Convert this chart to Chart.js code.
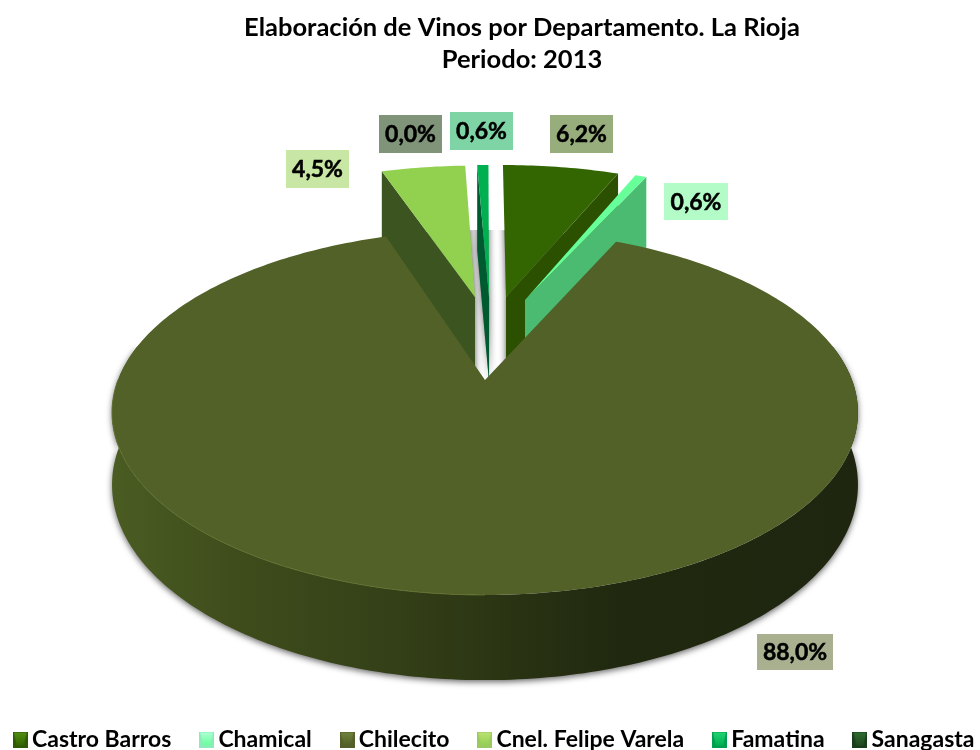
<!DOCTYPE html>
<html><head><meta charset="utf-8">
<style>html,body{margin:0;padding:0;background:#fff}canvas{display:block}</style>
<script src="https://cdn.jsdelivr.net/npm/chart.js@4"></script></head>
<body><canvas id="c" width="980" height="750"></canvas>
<script>
const categories=["Castro Barros","Chamical","Chilecito","Cnel. Felipe Varela","Famatina","Sanagasta"];
const values=[6.2,0.6,88.0,4.5,0.6,0.0];
const valueLabels=["6,2%","0,6%","88,0%","4,5%","0,6%","0,0%"];
const titleLines=["Elaboración de Vinos por Departamento. La Rioja","Periodo: 2013"];
const topColors=["#336600","#66FF99","#526127","#92D050","#00B050","#1F4A1F"];
const wallColors=["#2A5000","#4CBB72","#3F4F22","#3C5420","#005A30","#143214"];
const boxColors=["#98AD7C","#B3FCC8","#A8B090","#C8E6A4","#7FD4A6","#7F9478"];
const swatchEdge=["#2F5A08","#8CEBB8","#545F2C","#9CC860","#00A050","#1A3E1A"];
const swatchMid=["#4F8A10","#A8FFD0","#6E7F3C","#B8E070","#20D070","#2F6A2F"];
// label box placement (x,y,w,h), per slice
const boxX=[550,664,757,286,450,379],boxY=[115,183,634,150,112,115],boxW=[63,64,76,63,63,63],boxH=[38,37,36,38,38,38];
// how far each slice is pulled out of the disc, in disc units
const pullU=[0.0624,0.1186,0,-0.0297,0.012,0],pullV=[-0.513,-0.492,0,-0.513,-0.513,-0.5];
const radius=[1.04,1.046,1,1.035,1.04,1.04];
const CX=485,CY=380,A=367,B=176.7,K=0.178,WALL=85,RIM=70;
function P(u,v,dz){const w=1-K*v;return [CX+A*u/w,CY+B*v/w+(dz||0)/w];}
function rim(ctx,i,a0,a1,dz,rev){const n=Math.max(2,Math.ceil(Math.abs(a1-a0)*60));
  for(let j=0;j<=n;j++){const t=rev?a1+(a0-a1)*j/n:a0+(a1-a0)*j/n;
    const p=P(pullU[i]+radius[i]*Math.cos(t),pullV[i]+radius[i]*Math.sin(t),dz);ctx.lineTo(p[0],p[1]);}}
function topPath(ctx,i,a0,a1){ctx.beginPath();const c=P(pullU[i],pullV[i]);ctx.moveTo(c[0],c[1]);rim(ctx,i,a0,a1,0);ctx.closePath();}
function wallPath(ctx,i,ang){const c=P(pullU[i],pullV[i]),e=P(pullU[i]+radius[i]*Math.cos(ang),pullV[i]+radius[i]*Math.sin(ang));
  ctx.beginPath();ctx.moveTo(c[0],c[1]);ctx.lineTo(e[0],e[1]);ctx.lineTo(e[0],e[1]+WALL);ctx.lineTo(c[0],c[1]+WALL);ctx.closePath();}
function swatch(i){const s=document.createElement('canvas');s.width=15;s.height=16;const x=s.getContext('2d');
  x.fillStyle=swatchEdge[i];x.fillRect(0,0,15,16);
  const g=x.createLinearGradient(0,2,0,14);g.addColorStop(0,swatchMid[i]);g.addColorStop(1,topColors[i]);
  x.fillStyle=g;x.beginPath();x.moveTo(1,1);x.lineTo(14,1);x.lineTo(11,14);x.lineTo(4,14);x.closePath();x.fill();return s;}
const pie3d={id:'pie3d',
  beforeLayout(chart){const l=chart.legend;if(l&&!l._wide){l._wide=true;const f=l._fitRows;
    l._fitRows=function(){const m=this.maxWidth;this.maxWidth=4000;const r=f.apply(this,arguments);this.maxWidth=m;return r;};}},
  afterLayout(chart){const t=chart.titleBlock;t.left+=32;t.right+=32;
    const l=chart.legend;l.left=-15;l.right=1400;l.top=693;},
  beforeDatasetDraw(chart){
    const ctx=chart.ctx,arcs=chart.getDatasetMeta(0).data;
    const mainIdx=2;
    const exploded=[3,5,4,0,1];
    const angs=arcs.map(a=>a.getProps(['startAngle','endAngle'],true));
    const wallAng=i=>{const m=(angs[i].startAngle+angs[i].endAngle)/2;return Math.cos(m)>0?angs[i].endAngle:angs[i].startAngle;};
    // soft shadow cast on the floor of the notch
    ctx.save();ctx.beginPath();
    for(let j=0;j<=180;j++){const t=j/180*2*Math.PI,p=P(Math.cos(t),Math.sin(t));j?ctx.lineTo(p[0],p[1]):ctx.moveTo(p[0],p[1]);}
    ctx.closePath();ctx.clip();ctx.shadowColor='rgba(90,90,90,1)';ctx.shadowBlur=7;ctx.fillStyle='#999';
    exploded.forEach(i=>{if(values[i]<=0)return;wallPath(ctx,i,wallAng(i));ctx.fill();topPath(ctx,i,angs[i].startAngle,angs[i].endAngle);ctx.fill();});
    ctx.restore();
    // pulled-out slices
    exploded.forEach(i=>{if(values[i]<=0)return;
      ctx.fillStyle=wallColors[i];wallPath(ctx,i,wallAng(i));ctx.fill();
      ctx.fillStyle=topColors[i];topPath(ctx,i,angs[i].startAngle,angs[i].endAngle);ctx.fill();});
    // main slice side wall
    const i=mainIdx;
    const g=ctx.createLinearGradient(112,0,858,0);
    g.addColorStop(0,'#4A5C22');g.addColorStop(0.16,'#3F4D1C');g.addColorStop(0.39,'#333F17');g.addColorStop(0.68,'#20280F');g.addColorStop(1,'#1F2610');
    ctx.save();ctx.shadowColor='rgba(0,0,0,0.6)';ctx.shadowBlur=6;ctx.shadowOffsetX=0;ctx.shadowOffsetY=2;
    ctx.fillStyle=g;ctx.beginPath();
    const p0=P(Math.cos(-.2),Math.sin(-.2));ctx.moveTo(p0[0],p0[1]);
    rim(ctx,i,-.2,Math.PI+.2,0);rim(ctx,i,-.2,Math.PI+.2,RIM,true);ctx.closePath();ctx.fill();ctx.restore();
    ctx.fillStyle=topColors[i];topPath(ctx,i,angs[i].startAngle,angs[i].endAngle);ctx.fill();
    // faint highlight along the near-left rim
    ctx.strokeStyle='#5F7030';ctx.lineWidth=1;ctx.beginPath();rim(ctx,i,Math.PI/2,Math.PI,0);ctx.stroke();
    // labels
    ctx.font='bold 23px Lato';ctx.textAlign='center';ctx.textBaseline='middle';ctx.lineWidth=0.5;ctx.strokeStyle='#000';
    valueLabels.forEach((t,n)=>{ctx.fillStyle=boxColors[n];ctx.fillRect(boxX[n],boxY[n],boxW[n],boxH[n]);
      ctx.fillStyle='#000';const x=boxX[n]+boxW[n]/2,y=boxY[n]+boxH[n]/2+1;ctx.fillText(t,x,y);ctx.strokeText(t,x,y);});
    return false;
  }};
new Chart(document.getElementById('c'),{type:'pie',
  data:{labels:categories,datasets:[{data:values,backgroundColor:topColors,borderWidth:0}]},
  options:{responsive:false,animation:false,
    layout:{padding:0},
    plugins:{
      title:{display:true,text:titleLines,color:'#000',font:{family:'Lato',weight:'bold',size:25.5,lineHeight:1.26},padding:{top:12,bottom:10}},
      legend:{position:'bottom',align:'start',labels:{color:'#000',usePointStyle:true,pointStyleWidth:0.5,boxHeight:14,padding:35,
        font:{family:'Lato',weight:'bold',size:23},
        generateLabels(chart){return Chart.overrides.pie.plugins.legend.labels.generateLabels(chart).map((it,i)=>Object.assign(it,{pointStyle:swatch(i)}));}}},
      tooltip:{enabled:false}}},
  plugins:[pie3d]});
</script></body></html>
